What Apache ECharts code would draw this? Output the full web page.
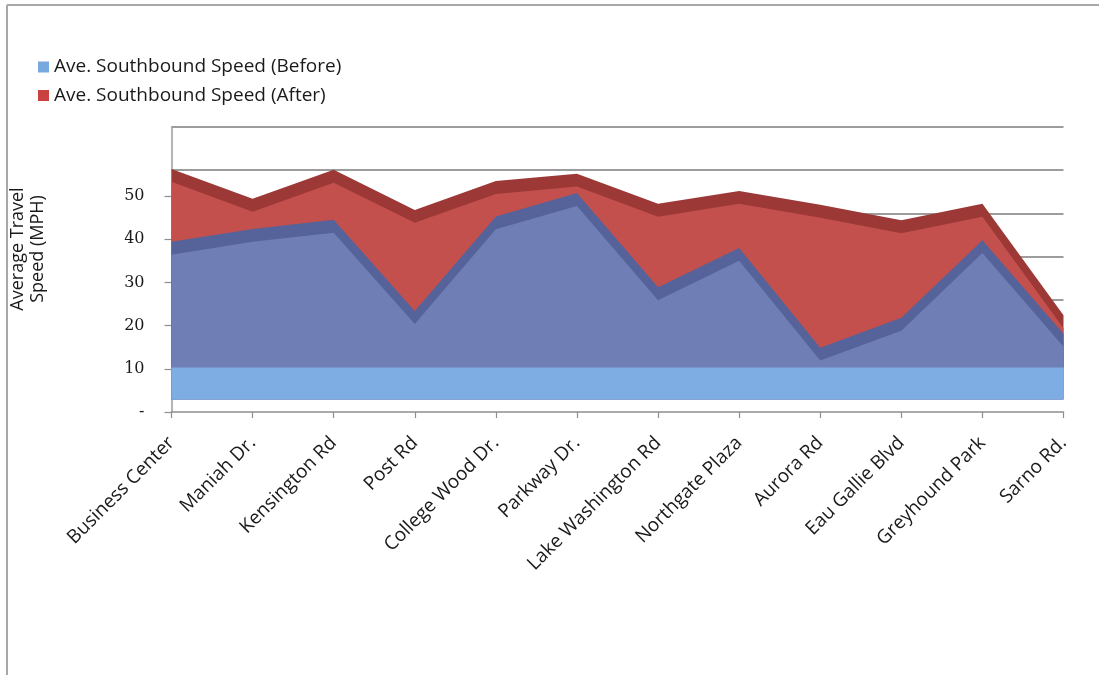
<!DOCTYPE html>
<html>
<head>
<meta charset="utf-8">
<title>Average Southbound Travel Speed</title>
<script src="https://cdn.jsdelivr.net/npm/echarts@6/dist/echarts.min.js"></script>
<style>
  html, body { margin: 0; padding: 0; background: #ffffff; }
  #chart { width: 1099px; height: 675px; }
</style>
</head>
<body>
<div id="chart"></div>
<script>
// ---- data ----
const categories = [
  'Business Center', 'Maniah Dr.', 'Kensington Rd', 'Post Rd', 'College Wood Dr.',
  'Parkway Dr.', 'Lake Washington Rd', 'Northgate Plaza', 'Aurora Rd',
  'Eau Gallie Blvd', 'Greyhound Park', 'Sarno Rd.'
];
const speedBefore = [36.4, 39.4, 41.5, 20.4, 42.3, 47.7, 25.9, 35.0, 11.9, 18.8, 36.8, 15.1];
const speedAfter  = [53.3, 46.4, 53.1, 43.8, 50.5, 52.2, 45.2, 48.2, 45.0, 41.4, 45.2, 19.4];
const yTickValues = [0, 10, 20, 30, 40, 50];
const wallLineValues = [10, 20, 30, 40, 50, 60];
const seriesNames = ['Ave. Southbound Speed (Before)', 'Ave. Southbound Speed (After)'];

// ---- pseudo-3D layout (value units on the main axis) ----
const Y_MAX = 66;        // top of the plot box
const DEPTH = 3;         // thickness of the top face of each area
const WALL_SHIFT = 6;    // back wall sits higher than the front plane
const FLOOR_EDGE = 2.9;  // front edge of the floor
const BAND_TOP = 10.3;   // where the rear series' floor meets the front face

const colors = {
  beforeFront: '#6F7FB6',
  beforeTop: '#56639A',
  beforeFloor: '#7EADE3',
  afterFront: '#C4504D',
  afterTop: '#9C3937',
  legendBefore: '#79A8DF',
  legendAfter: '#C9423F',
  grid: '#9c9c9c',
  axis: '#8f8f8f',
  text: '#1a1a1a'
};

const chart = echarts.init(document.getElementById('chart'), null, { renderer: 'canvas' });

function areaLayer(name, data, yAxisIndex, color, origin, z) {
  return {
    name: name,
    type: 'line',
    data: data,
    yAxisIndex: yAxisIndex,
    z: z,
    symbol: 'none',
    smooth: false,
    silent: true,
    lineStyle: { width: 0, opacity: 0 },
    areaStyle: { color: color, opacity: 1, origin: origin }
  };
}

const option = {
  animation: false,
  backgroundColor: '#ffffff',
  textStyle: { fontFamily: 'Open Sans' },
  grid: { left: 171.5, right: 35.5, top: 127, bottom: 263, containLabel: false },
  legend: {
    orient: 'vertical',
    left: 33,
    top: 52,
    icon: 'rect',
    itemWidth: 11,
    itemHeight: 11,
    itemGap: 8.5,
    selectedMode: false,
    textStyle: { fontFamily: 'Open Sans', fontSize: 19, lineHeight: 20, color: colors.text },
    data: [
      { name: seriesNames[0], itemStyle: { color: colors.legendBefore } },
      { name: seriesNames[1], itemStyle: { color: colors.legendAfter } }
    ]
  },
  xAxis: {
    type: 'category',
    data: categories,
    boundaryGap: false,
    axisLine: { show: true, lineStyle: { color: colors.axis, width: 1.5 } },
    axisTick: { show: true, length: 6, lineStyle: { color: colors.axis, width: 1.2 } },
    axisLabel: {
      interval: 0,
      rotate: 45,
      margin: 28,
      fontFamily: 'Open Sans',
      fontSize: 19,
      color: colors.text
    },
    splitLine: { show: false }
  },
  yAxis: [
    {
      // visible value axis (front plane)
      type: 'value',
      min: 0,
      max: Y_MAX,
      interval: 10,
      axisLine: { show: true, lineStyle: { color: colors.grid, width: 1.5 } },
      axisTick: { show: true, length: 7, customValues: yTickValues, lineStyle: { color: colors.axis, width: 1.2 } },
      axisLabel: {
        customValues: yTickValues,
        margin: 27,
        fontFamily: 'DejaVu Serif',
        fontSize: 16,
        color: colors.text,
        formatter: function (v) {
          if (v === 0) return '-';
          return v <= 50 ? String(v) : '';
        }
      },
      splitLine: { show: false }
    },
    {
      // back wall
      type: 'value',
      show: false,
      min: -WALL_SHIFT,
      max: Y_MAX - WALL_SHIFT,
      splitLine: { show: false }
    },
    {
      // top faces of the areas
      type: 'value',
      show: false,
      min: -DEPTH,
      max: Y_MAX - DEPTH,
      splitLine: { show: false }
    }
  ],
  series: [
    {
      name: 'wall',
      type: 'line',
      yAxisIndex: 1,
      data: [],
      silent: true,
      markLine: {
        z: 1,
        silent: true,
        symbol: ['none', 'none'],
        label: { show: false },
        lineStyle: { color: colors.grid, width: 2, type: 'solid' },
        data: wallLineValues.map(function (v) { return { yAxis: v }; })
      }
    },
    areaLayer('afterTop', speedAfter, 2, colors.afterTop, BAND_TOP - DEPTH, 2),
    areaLayer(seriesNames[1], speedAfter, 0, colors.afterFront, BAND_TOP, 3),
    areaLayer('beforeTop', speedBefore, 2, colors.beforeTop, FLOOR_EDGE - DEPTH, 4),
    Object.assign(areaLayer(seriesNames[0], speedBefore, 0, colors.beforeFront, FLOOR_EDGE, 5), {
      markArea: {
        z: 10,
        silent: true,
        itemStyle: { color: colors.beforeFloor, opacity: 1, borderWidth: 0 },
        label: { show: false },
        data: [[
          { coord: [0, FLOOR_EDGE] },
          { coord: [categories.length - 1, BAND_TOP] }
        ]]
      }
    })
  ],
  graphic: [
    {
      type: 'text',
      x: 28,
      y: 249,
      rotation: Math.PI / 2,
      silent: true,
      style: {
        text: 'Average Travel\nSpeed (MPH)',
        fontFamily: 'Open Sans',
        fontSize: 18,
        lineHeight: 20,
        fill: colors.text,
        align: 'center',
        verticalAlign: 'middle',
        textAlign: 'center',
        textVerticalAlign: 'middle'
      }
    },
    {
      type: 'line',
      silent: true,
      shape: { x1: 7, y1: 5, x2: 1099, y2: 5 },
      style: { stroke: '#a8a8a8', lineWidth: 2 }
    },
    {
      type: 'line',
      silent: true,
      shape: { x1: 7, y1: 5, x2: 7, y2: 675 },
      style: { stroke: '#a8a8a8', lineWidth: 2 }
    }
  ]
};

chart.setOption(option);
</script>
</body>
</html>
